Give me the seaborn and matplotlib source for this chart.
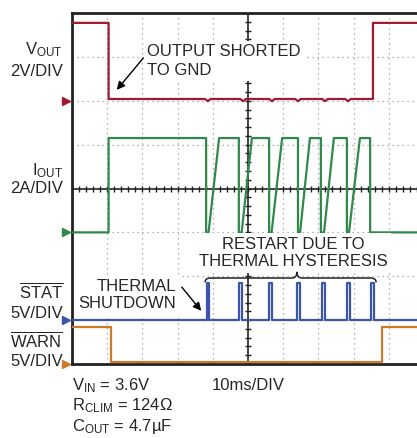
import numpy as np
import pandas as pd
import matplotlib.pyplot as plt
import seaborn as sns
from matplotlib.path import Path
from matplotlib.patches import PathPatch

# ---- values (time in ms, 10ms/DIV) ----
t_short = 10.4
t_warn_fall = 11.0
t_vout_rise = 85.5
t_warn_rise = 88.0

vout_high = 3.55      # V
vout_low = 0.08
vout_dip_t = [38.6, 48.6, 56.8, 64.2, 71.9, 78.4]
vout_dip = 0.1

iout_high = 4.3       # A
iout_fall_t = [38.1, 47.4, 56.0, 64.2, 70.7, 78.1, 84.7]
iout_restart_t = [38.8, 48.2, 56.7, 64.8, 71.6, 78.7]
iout_top_t = [41.8, 51.1, 59.7, 67.6, 74.4, 81.8]

stat_high = 4.2       # V
stat_low = 0.05
stat_on_t = [38.3, 47.5, 55.9, 63.9, 70.9, 78.0, 84.9]
stat_off_t = [38.9, 48.3, 56.8, 64.8, 71.8, 78.9, 85.8]

warn_high = 4.25      # V
warn_low = 0.2

channels = ['VOUT', 'IOUT', 'STAT', 'WARN']
offsets = [6, 3, 1, 0]          # ground position in divisions
scales = [2, 2, 5, 5]           # units per division
colors = ['#a01a30', '#2f8a4a', '#3b55a8', '#c97a2c']

# ---- build trace vertices ----
vout = [(0, vout_high), (t_short, vout_high), (t_short, vout_low)]
for t in vout_dip_t:
    vout += [(t - 0.8, vout_low), (t, vout_low - vout_dip), (t + 0.8, vout_low)]
vout += [(t_vout_rise, vout_low), (t_vout_rise, vout_high), (100, vout_high)]

iout = [(0, 0), (t_short, 0), (t_short, iout_high)]
for i, tf in enumerate(iout_fall_t):
    iout += [(tf, iout_high), (tf, 0)]
    if i < len(iout_restart_t):
        iout += [(iout_restart_t[i], 0), (iout_top_t[i], iout_high)]
iout += [(100, 0)]

stat = [(0, stat_low)]
for ton, toff in zip(stat_on_t, stat_off_t):
    stat += [(ton, stat_low), (ton, stat_high), (toff, stat_high), (toff, stat_low)]
stat += [(100, stat_low)]

warn = [(0, warn_high), (t_warn_fall, warn_high), (t_warn_fall, warn_low),
        (t_warn_rise, warn_low), (t_warn_rise, warn_high), (100, warn_high)]

rows = []
for name, pts, off, sc in zip(channels, [vout, iout, stat, warn], offsets, scales):
    for t, v in pts:
        rows.append({'channel': name, 't': t, 'div': off + v / sc})
df = pd.DataFrame(rows)

# ---- figure ----
sns.set_style('white')
plt.rcParams['font.family'] = ['Liberation Sans', 'DejaVu Sans']
plt.rcParams['mathtext.fontset'] = 'custom'
plt.rcParams['mathtext.rm'] = 'Liberation Sans'
plt.rcParams['mathtext.it'] = 'Liberation Sans'

W, H = 417, 438
fig = plt.figure(figsize=(W / 100, H / 100), dpi=100)
ax = fig.add_axes([72 / W, 74 / H, 352 / W, 351 / H])
ax.set_xlim(0, 100)
ax.set_ylim(0, 8)

# graticule
for x in range(10, 100, 10):
    if x != 50:
        ax.axvline(x, ls=(0, (1, 3)), color='#9a9a9a', lw=0.9, zorder=1)
for y in range(1, 8):
    if y != 4:
        ax.axhline(y, ls=(0, (1, 3)), color='#9a9a9a', lw=0.9, zorder=1)
ax.axvline(50, color='#222222', lw=1.2, zorder=1)
ax.axhline(4, color='#222222', lw=1.2, zorder=1)
xt = np.arange(0, 100.1, 2)
ax.plot(xt, np.full(len(xt), 4), ls='none', marker='|', ms=5, mew=1, color='#222222', zorder=1)
yt = np.arange(0, 8.01, 0.2)
ax.plot(np.full(len(yt), 50), yt, ls='none', marker='_', ms=5, mew=1, color='#222222', zorder=1)

for s in ['left', 'top', 'bottom']:
    ax.spines[s].set_linewidth(2)
    ax.spines[s].set_color('#222222')
ax.spines['right'].set_visible(False)
ax.set_xticks([])
ax.set_yticks([])
ax.set_xlabel('')
ax.set_ylabel('')

# traces
sns.lineplot(data=df, x='t', y='div', hue='channel', palette=dict(zip(channels, colors)),
             sort=False, estimator=None, legend=False, lw=1.6, ax=ax, zorder=4)

# ground markers
for off, c in zip(offsets, colors):
    ax.plot([-1.6], [off], marker='>', ms=6, color=c, clip_on=False, zorder=5)

# brace over restart pulses
bx0, bx1, bxm = 37.8, 86.4, 63.9
by, btip, bpk = 1.96, 1.86, 2.1
verts = [(bx0, btip), (bx0, by), (bx0 + 1.6, by), (bxm - 1.4, by), (bxm, by), (bxm, bpk),
         (bxm, by), (bxm + 1.4, by), (bx1 - 1.6, by), (bx1, by), (bx1, btip)]
codes = [Path.MOVETO, Path.CURVE3, Path.CURVE3, Path.LINETO, Path.CURVE3, Path.CURVE3,
         Path.CURVE3, Path.CURVE3, Path.LINETO, Path.CURVE3, Path.CURVE3]
ax.add_patch(PathPatch(Path(verts, codes), fill=False, lw=1.1, color='#222222', zorder=6))


def px(x, y):
    return x / W, 1 - y / H


fs = 12
box = dict(facecolor='white', edgecolor='none', boxstyle='square,pad=0.2')
tf = fig.transFigure

# channel labels
fig.text(*px(63, 50), r'V$_{\mathrm{OUT}}$', ha='right', va='center', fontsize=fs)
fig.text(*px(63, 71), '2V/DIV', ha='right', va='center', fontsize=fs)
fig.text(*px(63, 171), r'I$_{\mathrm{OUT}}$', ha='right', va='center', fontsize=fs)
fig.text(*px(63, 189), '2A/DIV', ha='right', va='center', fontsize=fs)
fig.text(*px(63, 291), r'$\overline{\mathrm{STAT}}$', ha='right', va='center', fontsize=fs)
fig.text(*px(63, 313), '5V/DIV', ha='right', va='center', fontsize=fs)
fig.text(*px(63, 340), r'$\overline{\mathrm{WARN}}$', ha='right', va='center', fontsize=fs)
fig.text(*px(63, 361), '5V/DIV', ha='right', va='center', fontsize=fs)

# conditions
fig.text(*px(72, 386), r'V$_{\mathrm{IN}}$ = 3.6V', ha='left', va='center', fontsize=fs)
fig.text(*px(72, 406), r'R$_{\mathrm{CLIM}}$ = 124Ω', ha='left', va='center', fontsize=fs)
fig.text(*px(72, 426), r'C$_{\mathrm{OUT}}$ = 4.7µF', ha='left', va='center', fontsize=fs)
fig.text(*px(212, 386), '10ms/DIV', ha='left', va='center', fontsize=fs)

# annotations
ax.text(*px(147, 61), 'OUTPUT SHORTED\nTO GND', ha='left', va='center', fontsize=fs,
        linespacing=1.3, bbox=box, transform=tf, zorder=5)
ax.annotate('', xy=px(115, 92), xytext=px(145, 56), xycoords='figure fraction',
            textcoords='figure fraction',
            arrowprops=dict(arrowstyle='-|>', lw=1, color='black', mutation_scale=12))

ax.text(*px(176, 295), 'THERMAL\nSHUTDOWN', ha='right', va='center', fontsize=fs,
        linespacing=1.2, bbox=box, transform=tf, zorder=5)
ax.annotate('', xy=px(203, 313), xytext=px(180, 285), xycoords='figure fraction',
            textcoords='figure fraction',
            arrowprops=dict(arrowstyle='-|>', lw=1, color='black', mutation_scale=12))

ax.text(*px(293, 253), 'RESTART DUE TO\nTHERMAL HYSTERESIS', ha='center', va='center',
        fontsize=fs, linespacing=1.2, bbox=box, transform=tf, zorder=5)

plt.savefig('out.png', dpi=100)
